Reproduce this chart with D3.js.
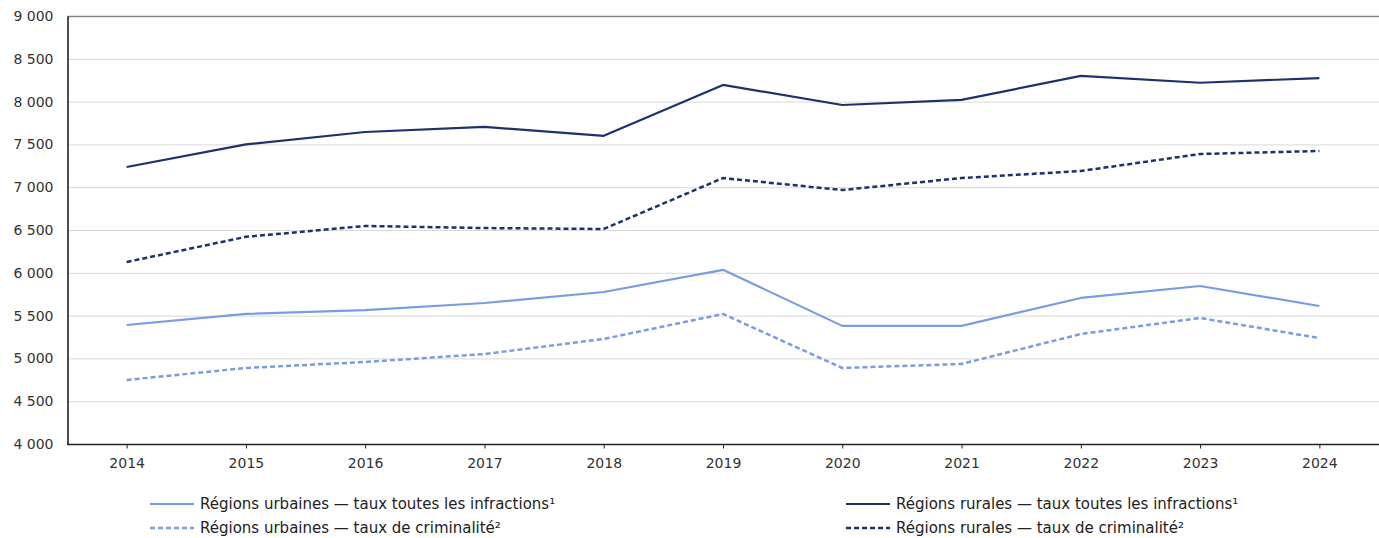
<!DOCTYPE html>
<html><head><meta charset="utf-8">
<script src="https://cdn.jsdelivr.net/npm/d3@7"></script>
<style>body{margin:0;background:#fff}svg{display:block}text{font-family:"DejaVu Sans",Verdana,sans-serif}</style>
</head><body><svg id="c" width="1379" height="538"></svg>
<script>
const years = ["2014","2015","2016","2017","2018","2019","2020","2021","2022","2023","2024"];
const urbanAll = [5390,5520,5565,5647,5776,6035,5380,5380,5706,5846,5612];
const urbanCrime = [4748,4888,4958,5051,5227,5519,4888,4935,5285,5472,5238];
const ruralAll = [7236,7500,7645,7705,7600,8195,7960,8020,8300,8220,8275];
const ruralCrime = [6126,6420,6547,6523,6512,7107,6967,7107,7189,7388,7423];
const yTicks = [4000,4500,5000,5500,6000,6500,7000,7500,8000,8500,9000];
const seriesNames = ["Régions urbaines — taux toutes les infractions¹","Régions urbaines — taux de criminalité²","Régions rurales — taux toutes les infractions¹","Régions rurales — taux de criminalité²"];

const light = "#7a9ce0", dark = "#1b326c";
const series = [
  {name: seriesNames[0], values: urbanAll, color: light, dash: null},
  {name: seriesNames[1], values: urbanCrime, color: light, dash: "5,3"},
  {name: seriesNames[2], values: ruralAll, color: dark, dash: null},
  {name: seriesNames[3], values: ruralCrime, color: dark, dash: "5,3"}
];

const svg = d3.select("#c");
const L = 67, R = 1379, T = 16, B = 444;
const x = d3.scalePoint().domain(years).range([L, R]).padding(0.5);
const y = d3.scaleLinear().domain([4000, 9000]).range([B, T]);
const fmt = v => d3.format(",")(v).replace(/,/g, " ");

// grid
svg.append("g").selectAll("line").data(yTicks.filter(d => d > 4000)).join("line")
  .attr("x1", L).attr("x2", R).attr("y1", d => y(d)+0.5).attr("y2", d => y(d)+0.5)
  .attr("stroke", d => d === 9000 ? "#888" : "#d9d9d9").attr("stroke-width", d => d === 9000 ? 1.5 : 1);

// y axis
const ya = svg.append("g").attr("transform", `translate(${L+0.5},0)`)
  .call(d3.axisLeft(y).tickValues(yTicks).tickFormat(fmt).tickSize(0).tickPadding(14));
ya.select(".domain").attr("stroke", "#222").attr("stroke-width", 1.6);
ya.selectAll("text").attr("font-size", 14).attr("fill", "#333");

// x axis
const xa = svg.append("g").attr("transform", `translate(0,${B+0.5})`)
  .call(d3.axisBottom(x).tickSizeInner(4).tickSizeOuter(0).tickPadding(10));
xa.select(".domain").attr("stroke", "#222").attr("stroke-width", 1.4).attr("d", `M${L},0H${R}`);
xa.selectAll("line").attr("stroke", "#222");
xa.selectAll("text").attr("font-size", 14).attr("fill", "#333");

// lines
const line = d3.line().x((d, i) => x(years[i])).y(d => y(d));
svg.append("g").selectAll("path").data(series).join("path")
  .attr("d", d => line(d.values)).attr("fill", "none")
  .attr("stroke", d => d.color).attr("stroke-width", d => d.dash ? 2.5 : 2.2)
  .attr("stroke-dasharray", d => d.dash)
  .attr("stroke-linejoin", "round");

// legend
const legPos = [[150, 504], [150, 528], [846, 504], [846, 528]];
const lg = svg.append("g").selectAll("g").data(series).join("g")
  .attr("transform", (d, i) => `translate(${legPos[i][0]},${legPos[i][1]})`);
lg.append("line").attr("x1", 0).attr("x2", 44).attr("y1", 0).attr("y2", 0)
  .attr("stroke", d => d.color).attr("stroke-width", d => d.dash ? 2.5 : 2.2)
  .attr("stroke-dasharray", d => d.dash);
lg.append("text").attr("x", 50).attr("y", 0).attr("dy", "0.35em")
  .attr("font-size", 15).attr("fill", "#222").text(d => d.name);
</script></body></html>
